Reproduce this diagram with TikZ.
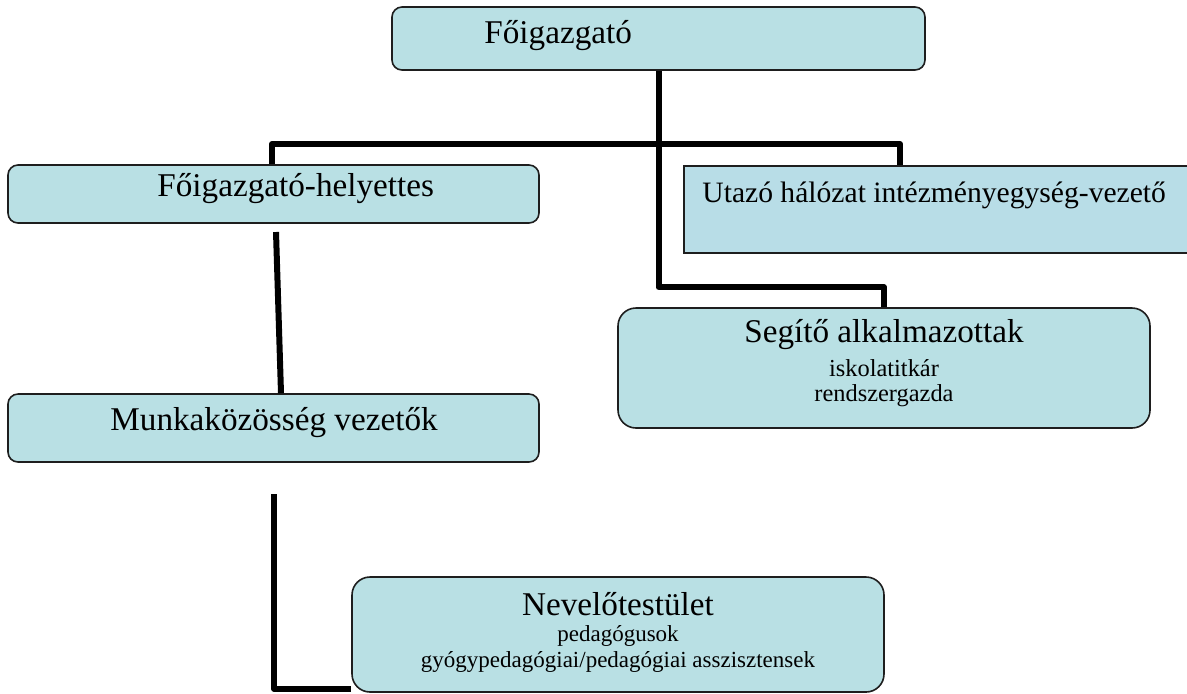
\documentclass[tikz,border=0pt]{standalone}
\usepackage{fontspec}
\setmainfont{Liberation Serif}
\usetikzlibrary{fit}
\definecolor{boxfill}{RGB}{185,224,228}
\definecolor{utazofill}{RGB}{184,221,231}
\definecolor{boxline}{RGB}{30,30,30}
\begin{document}
\begin{tikzpicture}[x=0.5pt, y=-0.5pt,
    every node/.style={inner sep=0pt},
    orgbox/.style={rectangle, rounded corners=5pt, draw=boxline,
      line width=0.8pt, fill=boxfill},
    bigbox/.style={orgbox, rounded corners=9pt},
    flatbox/.style={rectangle, draw=boxline, line width=0.8pt,
      fill=utazofill},
    title/.style={font=\fontsize{16.6}{19}\selectfont},
    midtitle/.style={font=\fontsize{14.8}{18}\selectfont},
    subtitle/.style={font=\fontsize{12.2}{14}\selectfont},
    smalltitle/.style={font=\fontsize{11.5}{13}\selectfont},
    conn/.style={line width=3pt, draw=black, line join=round}
  ]
  \useasboundingbox (0,0) rectangle (1187,693);
  % boxes
  \node[orgbox, fit={(392,7) (925,70)}] (fo) {};
  \node[orgbox, fit={(8,165) (539,223)}] (helyettes) {};
  \node[flatbox, fit={(684,166) (1194,253)}] (utazo) {};
  \node[bigbox, fit={(618,308) (1150,428)}] (segito) {};
  \node[orgbox, fit={(8,394) (539,462)}] (munka) {};
  \node[bigbox, fit={(352,577) (884,692)}] (nevelo) {};
  % texts
  \node[title, anchor=west] (fotxt) at (484,36) {Főigazgató};
  \node[title, anchor=west] (helytxt) at (157,189) {Főigazgató-helyettes};
  \node[midtitle, anchor=west] (utazotxt) at (702,195)
    {Utazó hálózat intézményegység-vezető};
  \node[title] (segtxt) at (884,335) {Segítő alkalmazottak};
  \node[subtitle] (segsub1) at (884,368) {iskolatitkár};
  \node[subtitle] (segsub2) at (884,396) {rendszergazda};
  \node[title, anchor=west] (munkatxt) at (110,423) {Munkaközösség vezetők};
  \node[title] (neveltxt) at (618,604) {Nevelőtestület};
  \node[smalltitle] (nevsub1) at (618,636) {pedagógusok};
  \node[smalltitle] (nevsub2) at (618,662)
    {gyógypedagógiai/pedagógiai asszisztensek};
  % connectors
  \coordinate (barL) at (272,144);
  \coordinate (barR) at (900,144);
  \coordinate (hstart) at (276,232);
  \coordinate (nstart) at (274,494);
  \draw[conn] (fo.south) |- ([yshift=10pt]segito.north) -- (segito.north);
  \draw[conn] (helyettes.north -| barL) |- (barR) -- (utazo.north -| barR);
  \draw[conn] (hstart) -- ([xshift=3.75pt]munka.north);
  \draw[conn] (nstart) |- ([yshift=2pt]nevelo.south west);
\end{tikzpicture}
\end{document}
